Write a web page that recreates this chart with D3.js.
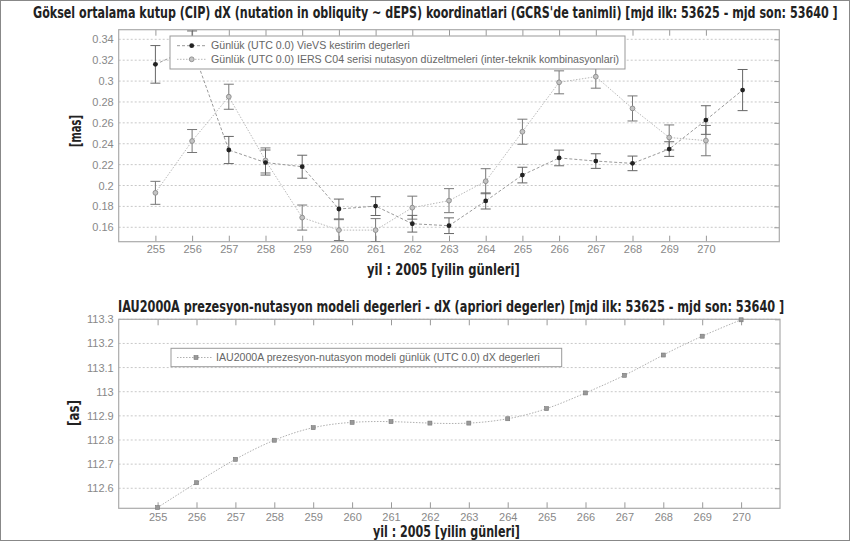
<!DOCTYPE html>
<html>
<head>
<meta charset="utf-8">
<script src="https://cdn.jsdelivr.net/npm/d3@7"></script>
<style>
  html, body { margin: 0; padding: 0; background: #fff; }
  svg { display: block; }
</style>
</head>
<body>
<svg id="chart" width="851" height="548"></svg>
<script>
// ---- data -------------------------------------------------------------
// day of year 2005
const daysVievs = [255, 256, 257, 258, 259, 260, 261, 262, 263, 264, 265, 266, 267, 268, 269, 270, 271];
// VieVS daily dX estimates [mas] and formal errors
const vievsDX  = [0.316, 0.332, 0.234, 0.222, 0.218, 0.1775, 0.1803, 0.1634, 0.1615, 0.1852, 0.210, 0.2264, 0.2234, 0.2212, 0.2349, 0.2627, 0.2914];
const vievsErr = [0.018, 0.016, 0.013, 0.012, 0.011, 0.0095, 0.009, 0.008, 0.0075, 0.0077, 0.0075, 0.0075, 0.007, 0.007, 0.007, 0.0137, 0.0197];

const daysC04 = [255, 256, 257, 258, 259, 260, 261, 262, 263, 264, 265, 266, 267, 268, 269, 270];
// IERS C04 nutation corrections dX [mas] and errors
const c04DX  = [0.193, 0.2426, 0.285, 0.224, 0.1693, 0.1573, 0.1573, 0.1788, 0.1855, 0.2041, 0.2515, 0.2988, 0.3042, 0.2738, 0.246, 0.243];
const c04Err = [0.011, 0.011, 0.012, 0.012, 0.012, 0.010, 0.011, 0.011, 0.0115, 0.012, 0.012, 0.011, 0.011, 0.012, 0.012, 0.0145];

const daysIau = [255, 256, 257, 258, 259, 260, 261, 262, 263, 264, 265, 266, 267, 268, 269, 270];
// IAU2000A a-priori dX [as]
const iauDX = [112.52, 112.623, 112.72, 112.799, 112.851, 112.873, 112.876, 112.870, 112.870, 112.888, 112.93, 112.995, 113.068, 113.152, 113.23, 113.298];

const xTicks = [255, 256, 257, 258, 259, 260, 261, 262, 263, 264, 265, 266, 267, 268, 269, 270];
const yTicksTop = [0.16, 0.18, 0.20, 0.22, 0.24, 0.26, 0.28, 0.30, 0.32, 0.34];
const yTicksBottom = [112.6, 112.7, 112.8, 112.9, 113.0, 113.1, 113.2, 113.3];

const titleTop = "Göksel ortalama kutup (CIP) dX (nutation in obliquity ~ dEPS) koordinatlari (GCRS'de tanimli) [mjd ilk: 53625 - mjd son: 53640 ]";
const titleBottom = "IAU2000A prezesyon-nutasyon modeli degerleri -  dX  (apriori degerler) [mjd ilk: 53625 - mjd son: 53640 ]";
const xLabel = "yil : 2005 [yilin günleri]";
const legendTop = ["Günlük (UTC 0.0) VieVS kestirim degerleri",
                   "Günlük (UTC 0.0) IERS C04 serisi nutasyon düzeltmeleri (inter-teknik kombinasyonlari)"];
const legendBottom = "IAU2000A prezesyon-nutasyon modeli günlük (UTC 0.0) dX degerleri";

// ---- drawing ----------------------------------------------------------
const svg = d3.select("#chart");
const headFont = "'DejaVu Sans Condensed', 'Liberation Sans Narrow', sans-serif";
const tickFont = "'Liberation Sans', Arial, sans-serif";

// outer frame
svg.append("rect").attr("x", 0.5).attr("y", 0.5).attr("width", 849).attr("height", 540)
  .attr("fill", "none").attr("stroke", "#888");

const fmt = v => String(+v.toFixed(2));

function panel(opts) {
  const x = d3.scaleLinear().domain(opts.xDomain).range([opts.left, opts.right]);
  const y = d3.scaleLinear().domain(opts.yDomain).range([opts.bottom, opts.top]);
  const g = svg.append("g");

  // horizontal dotted grid
  g.selectAll("line.grid").data(opts.yTicks).join("line")
    .attr("x1", opts.left).attr("x2", opts.right)
    .attr("y1", d => y(d)).attr("y2", d => y(d))
    .attr("stroke", "#c8c8c8").attr("stroke-dasharray", "2,2").attr("stroke-width", 1);

  // axes with inward ticks
  const ax = d3.axisBottom(x).tickValues(xTicks).tickSize(-6).tickPadding(opts.xPad).tickFormat(d3.format("d"));
  const gx = g.append("g").attr("transform", `translate(0,${opts.bottom})`).call(ax);
  const axTop = d3.axisTop(x).tickValues(xTicks).tickSize(-6).tickFormat("");
  const gxt = g.append("g").attr("transform", `translate(0,${opts.top})`).call(axTop);
  const ay = d3.axisLeft(y).tickValues(opts.yTicks).tickSize(0).tickPadding(5).tickFormat(fmt);
  const gy = g.append("g").attr("transform", `translate(${opts.left},0)`).call(ay);
  const ayr = d3.axisRight(y).tickValues(opts.yTicks).tickSize(-5).tickFormat("");
  const gyr = g.append("g").attr("transform", `translate(${opts.right},0)`).call(ayr);
  [gx, gxt, gy, gyr].forEach(a => {
    a.select(".domain").remove();
    a.selectAll(".tick line").attr("stroke", "#999");
    a.selectAll(".tick text").attr("fill", "#888").style("font-family", tickFont).style("font-size", "11px");
  });
  // box
  g.append("rect").attr("x", opts.left).attr("y", opts.top)
    .attr("width", opts.right - opts.left).attr("height", opts.bottom - opts.top)
    .attr("fill", "none").attr("stroke", "#aaa").attr("stroke-width", 1.2);

  return { x, y, g };
}

// ---------- top panel ----------
const P1 = panel({ left: 118.7, right: 779.3, top: 29.7, bottom: 241.7, xPad: 4,
                   xDomain: [254, 272], yDomain: [0.1462, 0.3492], yTicks: yTicksTop });

const vievs = daysVievs.map((d, i) => ({ d, v: vievsDX[i], e: vievsErr[i] }));
const c04 = daysC04.map((d, i) => ({ d, v: c04DX[i], e: c04Err[i] }));

svg.append("clipPath").attr("id", "clipTop").append("rect")
  .attr("x", 118.7).attr("y", 29.7).attr("width", 779.3 - 118.7).attr("height", 241.7 - 29.7);

const line1 = d3.line().x(p => P1.x(p.d)).y(p => P1.y(p.v));
const gTop = P1.g.append("g").attr("clip-path", "url(#clipTop)");

gTop.append("path").datum(c04).attr("d", line1).attr("fill", "none")
  .attr("stroke", "#b8b8b8").attr("stroke-width", 1).attr("stroke-dasharray", "1.5,1.5");
gTop.append("path").datum(vievs).attr("d", line1).attr("fill", "none")
  .attr("stroke", "#9a9a9a").attr("stroke-width", 1).attr("stroke-dasharray", "3,2");

function errorBars(sel, data, color) {
  const cap = 5;
  const eb = sel.append("g").selectAll("g").data(data).join("g");
  eb.append("line").attr("x1", p => P1.x(p.d)).attr("x2", p => P1.x(p.d))
    .attr("y1", p => P1.y(p.v - p.e)).attr("y2", p => P1.y(p.v + p.e))
    .attr("stroke", color).attr("stroke-width", 1);
  [-1, 1].forEach(s => {
    eb.append("line").attr("x1", p => P1.x(p.d) - cap).attr("x2", p => P1.x(p.d) + cap)
      .attr("y1", p => P1.y(p.v + s * p.e)).attr("y2", p => P1.y(p.v + s * p.e))
      .attr("stroke", color).attr("stroke-width", 1);
  });
}
errorBars(gTop, c04, "#777");
errorBars(gTop, vievs, "#666");

gTop.selectAll("circle.c04").data(c04).join("circle")
  .attr("cx", p => P1.x(p.d)).attr("cy", p => P1.y(p.v)).attr("r", 2.4)
  .attr("fill", "#c4c4c4").attr("stroke", "#8a8a8a").attr("stroke-width", 0.9);
gTop.selectAll("circle.vievs").data(vievs).join("circle")
  .attr("cx", p => P1.x(p.d)).attr("cy", p => P1.y(p.v)).attr("r", 2.4)
  .attr("fill", "#222");

// legend
const lg1 = P1.g.append("g");
lg1.append("rect").attr("x", 170).attr("y", 36).attr("width", 455).attr("height", 33)
  .attr("fill", "#fff").attr("stroke", "#999");
[[45.7, "#9a9a9a", "3,2", "#222", null], [59.3, "#b8b8b8", "1.5,1.5", "#c4c4c4", "#8a8a8a"]].forEach((r, i) => {
  lg1.append("line").attr("x1", 177).attr("x2", 206).attr("y1", r[0]).attr("y2", r[0])
    .attr("stroke", r[1]).attr("stroke-dasharray", r[2]);
  lg1.append("circle").attr("cx", 191.7).attr("cy", r[0]).attr("r", 2.4)
    .attr("fill", r[3]).attr("stroke", r[4] || "none").attr("stroke-width", 0.9);
  lg1.append("text").attr("x", 211).attr("y", r[0]).attr("dy", "0.35em")
    .attr("fill", "#666").style("font-family", tickFont).style("font-size", "10.6px")
    .text(legendTop[i]);
});

// ---------- bottom panel ----------
const P2 = panel({ left: 118.7, right: 780, top: 319.3, bottom: 508.3, xPad: 4.5,
                   xDomain: [254, 271], yDomain: [112.517, 113.3], yTicks: yTicksBottom });
const iau = daysIau.map((d, i) => ({ d, v: iauDX[i] }));
const line2 = d3.line().x(p => P2.x(p.d)).y(p => P2.y(p.v)).curve(d3.curveNatural);
P2.g.append("path").datum(iau).attr("d", line2).attr("fill", "none")
  .attr("stroke", "#b0b0b0").attr("stroke-width", 1).attr("stroke-dasharray", "1.5,1.5");
P2.g.selectAll("rect.pt").data(iau).join("rect")
  .attr("x", p => P2.x(p.d) - 2).attr("y", p => P2.y(p.v) - 2).attr("width", 4).attr("height", 4)
  .attr("fill", "#999").attr("stroke", "#777").attr("stroke-width", 0.6);

const lg2 = P2.g.append("g");
lg2.append("rect").attr("x", 171).attr("y", 348.3).attr("width", 390.7).attr("height", 18.4)
  .attr("fill", "#fff").attr("stroke", "#999");
lg2.append("line").attr("x1", 177).attr("x2", 212).attr("y1", 357.5).attr("y2", 357.5)
  .attr("stroke", "#b0b0b0").attr("stroke-dasharray", "1.5,1.5");
lg2.append("rect").attr("x", 194).attr("y", 355.5).attr("width", 4).attr("height", 4)
  .attr("fill", "#999").attr("stroke", "#777").attr("stroke-width", 0.6);
lg2.append("text").attr("x", 216).attr("y", 357.5).attr("dy", "0.35em")
  .attr("fill", "#666").style("font-family", tickFont).style("font-size", "10.6px")
  .text(legendBottom);

// ---------- titles and axis labels ----------
// condensed bold headings: squeeze the natural text horizontally to the wanted width
function headText(x, y, txt, width, size, rotate) {
  const g = svg.append("g");
  const t = g.append("text").attr("x", 0).attr("y", 0)
    .attr("fill", "#222").style("font-family", headFont).style("font-weight", "bold")
    .style("font-size", size + "px").text(txt);
  const w = t.node().getComputedTextLength();
  const sx = width / w;
  if (rotate) {
    t.attr("text-anchor", "middle").attr("dy", "0.35em");
    g.attr("transform", `translate(${x},${y}) rotate(-90) scale(${sx},1)`);
  } else {
    g.attr("transform", `translate(${x},${y}) scale(${sx},1)`);
  }
  return t;
}
headText(33, 18, titleTop, 805, 16.5);
headText(118, 312, titleBottom, 667, 16.5);
headText(367, 275, xLabel, 153, 16);
headText(373, 537, xLabel, 147, 16);
headText(75, 131, "[mas]", 32, 16, true);
headText(73, 413, "[as]", 26, 16, true);
</script>
</body>
</html>
